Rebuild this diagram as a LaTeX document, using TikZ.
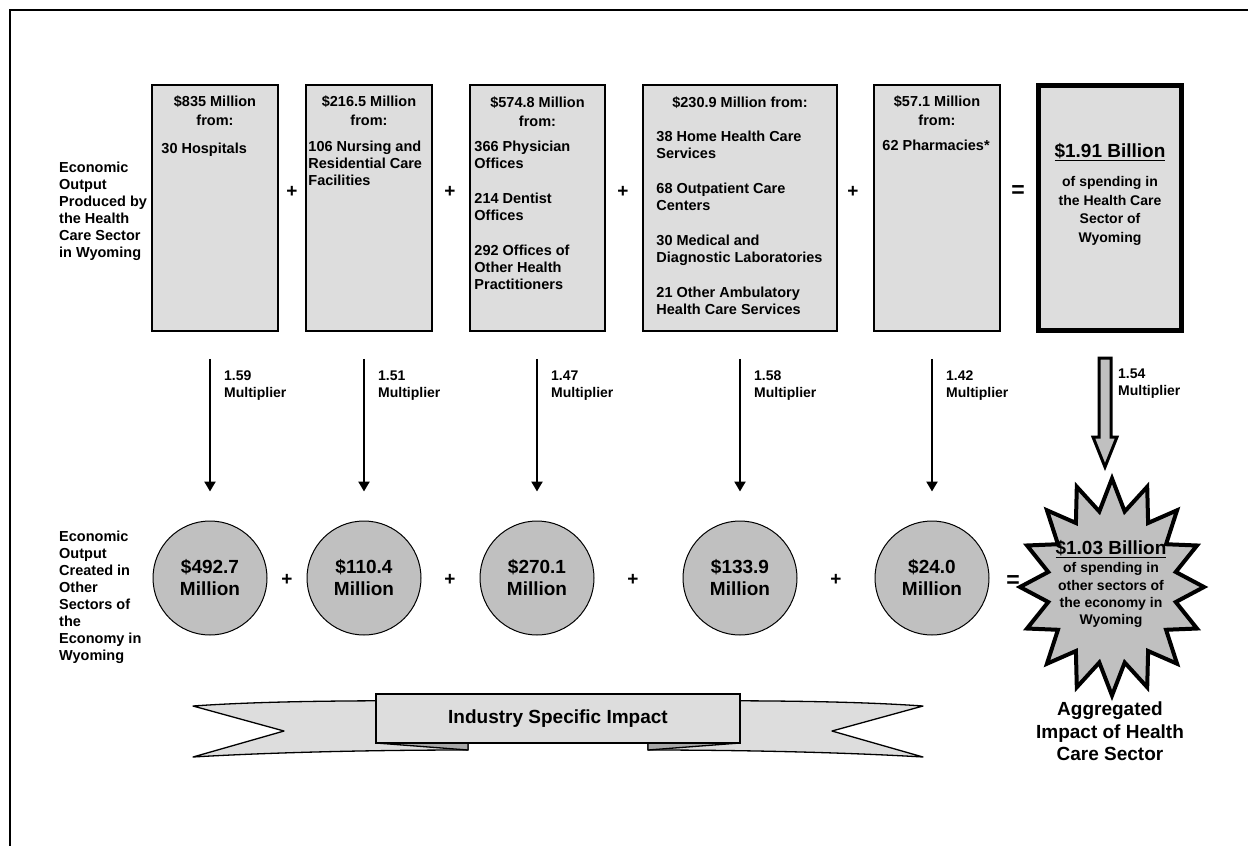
\documentclass[tikz,border=0pt]{standalone}
\usepackage{fontspec}
\setmainfont{Liberation Sans}
\usepackage{tikz}
\usetikzlibrary{positioning}
\usetikzlibrary{arrows.meta}
\usetikzlibrary{calc}

\definecolor{boxgray}{HTML}{DDDDDD}
\definecolor{silver}{HTML}{C0C0C0}
\definecolor{foldgray}{HTML}{A8A8A8}

\begin{document}
\begin{tikzpicture}[x=1pt,y=-1pt,
		every node/.style={inner sep=0pt},
		box/.style={draw, line width=1.5pt, fill=boxgray, minimum width=#1, minimum height=246pt},
		head/.style={align=center, font=\fontsize{14.5}{19}\selectfont\bfseries},
		item/.style={align=left, font=\fontsize{14.5}{17}\selectfont\bfseries},
		mult/.style={align=left, font=\fontsize{14}{17}\selectfont\bfseries},
		big/.style={align=center, font=\fontsize{19}{22.5}\selectfont\bfseries}]
		\tikzset{sumbox/.style = {draw, line width=5pt, fill=boxgray, minimum width=143pt, minimum height=245pt}}
		\tikzset{amount/.style = {circle, draw, line width=1pt, fill=silver, minimum size=114pt, align=center, font=\fontsize{19}{22}\selectfont\bfseries}}
		\tikzset{sign/.style = {font=\fontsize{19}{19}\selectfont\bfseries}}
		\tikzset{multarrow/.style = {line width=2.3pt, -{Triangle[length=10pt,width=11pt]}}}
		\tikzset{ribbon/.style = {draw, line width=1.3pt, fill=boxgray, line join=round}}
			\useasboundingbox (0,0) rectangle (1248,846);
			\draw[line width=2.5pt] (10,846) -- (10,10) -- (1248,10);

			% output of the health care sector
			\node[box=126pt] (b1) at (215,208) {};
			\node[box=126pt] (b2) at (369,208) {};
			\node[box=135pt] (b3) at (537.5,208) {};
			\node[box=194pt] (b4) at (740,208) {};
			\node[box=126pt] (b5) at (937,208) {};
			\node[sumbox] (b6) at (1110,208) {};

			\node[head, below=11.5pt of b1.north] (b1h) {\$835 Million\\from:};
			\node[item, below right=59pt and 10pt of b1.north west] (b1i) {30 Hospitals};
			\node[head, below=11.5pt of b2.north] (b2h) {\$216.5 Million\\from:};
			\node[item, below right=57pt and 3pt of b2.north west] (b2i) {106 Nursing and\\Residential Care\\Facilities};
			\node[head, below=12pt of b3.north] (b3h) {\$574.8 Million\\from:};
			\node[item, below right=57pt and 5pt of b3.north west] (b3i) {366 Physician\\Offices\\[18pt]214 Dentist\\Offices\\[18pt]292 Offices of\\Other Health\\Practitioners};
			\node[head, below=12pt of b4.north] (b4h) {\$230.9 Million from:};
			\node[item, below right=47pt and 14pt of b4.north west] (b4i) {38 Home Health Care\\Services\\[18pt]68 Outpatient Care\\Centers\\[18pt]30 Medical and\\Diagnostic Laboratories\\[18pt]21 Other Ambulatory\\Health Care Services};
			\node[head, below=11.5pt of b5.north] (b5h) {\$57.1 Million\\from:};
			\node[item, below right=56pt and 9pt of b5.north west] (b5i) {62 Pharmacies*};
			\node[big, below=60pt of b6.north] (b6h) {\underline{\$1.91 Billion}};
			\node[align=center, font=\fontsize{14}{18.7}\selectfont\bfseries, below=93pt of b6.north] (b6t) {of spending in\\the Health Care\\Sector of\\Wyoming};

			\node[item, anchor=north west] (prodlbl) at (59,161.3) {Economic\\Output\\Produced by\\the Health\\Care Sector\\in Wyoming};
			\node[item, anchor=north west] (otherlbl) at (59,531) {Economic\\Output\\Created in\\Other\\Sectors of\\the\\Economy in\\Wyoming};

			\foreach \x [count=\i] in {292,450,623,853}
				\node[sign] (tp\i) at (\x,192) {+};
			\node[sign, font=\fontsize{23}{23}\selectfont\bfseries] (teq) at (1018,192) {=};

			% output created in other sectors
			\foreach \x/\v [count=\i] in {210/492.7,364/110.4,537/270.1,740/133.9,932/24.0}
				\node[amount] (c\i) at (\x,578) {\$\v\\Million};
			\foreach \x [count=\i] in {287,450,633,836}
				\node[sign] (bp\i) at (\x,580) {+};

			\foreach \i/\m in {1/1.59,2/1.51,3/1.47,4/1.58,5/1.42}
				\draw[multarrow] ($(c\i.north |- b\i.south)+(0,27)$) -- ($(c\i.north)+(0,-29)$)
					node[mult, pos=0, anchor=north west, xshift=13pt, yshift=-10.5pt] (m\i) {\m\\Multiplier};

			% aggregated impact
			\coordinate (burst) at (1112,587);
			\begin{scope}[shift={(burst)}]
				\draw[line width=4pt, fill=silver, line join=miter] (0:92 and 108.5)
					\foreach \a in {11.25,33.75,...,348.75} { -- (\a:65 and 77) -- ({\a+11.25}:92 and 108.5) } -- cycle;
			\end{scope}
			\draw[line width=3pt, fill=silver] ($(b6.south)+(-11,25)$) -- ++(12,0) -- ++(0,79) -- ++(6,0)
				-- ++(-12,30) -- ++(-12,-30) -- ++(6,0) -- cycle;
			\node[mult, anchor=north west] (m6) at ($(b6.south)+(8,36)$) {1.54\\Multiplier};
			\node[big, anchor=north] (bursth) at ($(burst)+(-1,-47)$) {\underline{\$1.03 Billion}};
			\node[align=center, font=\fontsize{14}{17.3}\selectfont\bfseries, anchor=north] (burstt) at ($(burst)+(-1,-24.5)$) {of spending in\\other sectors of\\the economy in\\Wyoming};
			\node[sign, font=\fontsize{23}{23}\selectfont\bfseries] (beq) at (1013,582) {=};
			\node[big, anchor=north] (agglbl) at ($(burst)+(-2,115)$) {Aggregated\\Impact of Health\\Care Sector};

			% banner
			\draw[ribbon] (468,701) .. controls (330,700) and (250,702) .. (193,706) -- (284,731) -- (193,757)
				.. controls (260,753) and (360,750) .. (468,750) -- cycle;
			\draw[ribbon] (648,701) .. controls (786,700) and (866,702) .. (923,706) -- (832,731) -- (923,757)
				.. controls (856,753) and (756,750) .. (648,750) -- cycle;
			\draw[ribbon, fill=foldgray] (468,743) -- (468,750) -- (376,743) -- cycle;
			\draw[ribbon, fill=foldgray] (648,743) -- (648,750) -- (740,743) -- cycle;
			\node[draw, line width=1.3pt, fill=boxgray, minimum width=364pt, minimum height=49pt, font=\fontsize{19}{19}\selectfont\bfseries] (banner) at (558,718.5) {Industry Specific Impact};
		\end{tikzpicture}
\end{document}
